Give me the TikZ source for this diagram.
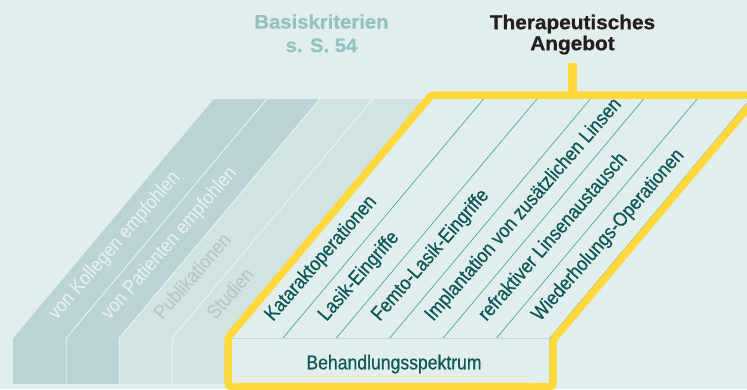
\documentclass[tikz,border=0pt]{standalone}
\usepackage{fontspec}
\setmainfont{Liberation Sans}
\newfontfamily\narrowfont{Liberation Sans}[FakeStretch=0.88, FakeBold=0.6]
\newfontfamily\headfont{Liberation Sans}[FakeStretch=1.04, FakeBold=0.8]
\usetikzlibrary{calc}

\definecolor{bgMint}{HTML}{E2EEED}
\definecolor{colDark}{HTML}{BAD3D5}
\definecolor{colLight}{HTML}{D1E3E3}
\definecolor{colSep}{HTML}{EEF5F5}
\definecolor{lineTeal}{HTML}{3C9FA0}
\definecolor{textTeal}{HTML}{0E5858}
\definecolor{signalYellow}{HTML}{FFD93B}
\definecolor{paleYellow}{HTML}{F1E6A0}
\definecolor{critTeal}{HTML}{94C1C1}
\definecolor{critGrey}{HTML}{B6C8C9}
\definecolor{critWhite}{HTML}{E6F0F0}
\definecolor{headInk}{HTML}{231F20}

\begin{document}
\begin{tikzpicture}[
    x=1pt, y=-1pt,
    labelfont/.style={font=\narrowfont\fontsize{20}{22}\selectfont},
    critdark/.style={labelfont, text=critWhite, rotate=49, anchor=base west, inner sep=1.5pt, draw=critWhite, draw opacity=0.35, line width=0.4pt},
    critlight/.style={labelfont, text=critGrey, rotate=49, anchor=base west, inner sep=1.5pt},
    treatlabel/.style={labelfont, text=textTeal, rotate=49, anchor=base west, inner sep=0pt},
    colsep/.style={draw=colSep, line width=0.8pt},
    spoke/.style={draw=lineTeal, line width=0.6pt},
    yellowframe/.style={draw=signalYellow, line width=7.5pt, rounded corners=3pt},
    heading/.style={font=\headfont\bfseries\fontsize{20}{21}\selectfont, align=center, inner sep=0pt, anchor=north}
]
\fill[bgMint] (0,0) rectangle (747,389);
\useasboundingbox (0,0) rectangle (747,389);
\clip (0,0) rectangle (747,389);

% criteria columns: slanted top plus front face
\foreach \shade [count=\i from 0] in {colDark,colDark,colLight,colLight} {
    \fill[\shade] ({13.3+53*\i},338) -- ++(200.5,-239) -- ++(53,0) -- ++(-200.5,239) -- cycle;
    \fill[\shade] ({13.3+53*\i},338) rectangle ++(53,46);
}
\foreach \i in {1,2,3}
    \draw[colsep] ({13.3+53*\i},384) -- ({13.3+53*\i},338) -- ++(200.5,-239);

\foreach \txt/\sty [count=\i from 0] in {von Kollegen empfohlen/critdark, von Patienten empfohlen/critdark, Publikationen/critlight, Studien/critlight}
    \node[\sty] (crit\i) at ({55.5+53*\i},321.5) {\txt};

% treatment panel
\fill[bgMint] (229,386) -- (229,338) -- (429.5,99) -- (750,99) -- (550,338) -- (550,386) -- cycle;
\foreach \i in {1,...,5}
    \draw[spoke] ({229.6+53.4*\i},338) -- ++(200.5,-239);
\draw[spoke] (550,386) -- (550,338) -- ++(200.5,-239);
\draw[draw=colLight!85!lineTeal, line width=0.6pt] (229,338.5) -- (550,338.5);
\draw[draw=paleYellow, line width=0.7pt] (237,376) -- (530,376);

\foreach \txt [count=\i from 0] in {Kataraktoperationen, Lasik-Eingriffe, Femto-Lasik-Eingriffe, Implantation von zusätzlichen Linsen, refraktiver Linsenaustausch, Wiederholungs-Operationen}
    \node[treatlabel] (treat\i) at ({273+53.4*\i},322) {\txt};

\node[labelfont, text=textTeal, anchor=base, inner sep=0pt] (spectrum) at (394,369.3) {Behandlungsspektrum};

% yellow outline and headings
\draw[yellowframe] (228,386.5) -- (228,337.5) -- (431.5,95) -- (758.6,95) -- (553,340) -- (553,386.5) -- cycle;
\coordinate (topedge) at (572.5,95);

\node[heading, text=critTeal, font=\headfont\bfseries\fontsize{19.5}{23.5}\selectfont] (basis) at (321.5,14.2) {Basiskriterien\\s. S. 54};
\node[heading, text=headInk] (offer) at (572.5,14.5) {Therapeutisches\\Angebot};
\draw[draw=signalYellow, line width=8.5pt] ([yshift=-8pt]offer.south) -- (offer.south |- topedge);
\end{tikzpicture}
\end{document}
